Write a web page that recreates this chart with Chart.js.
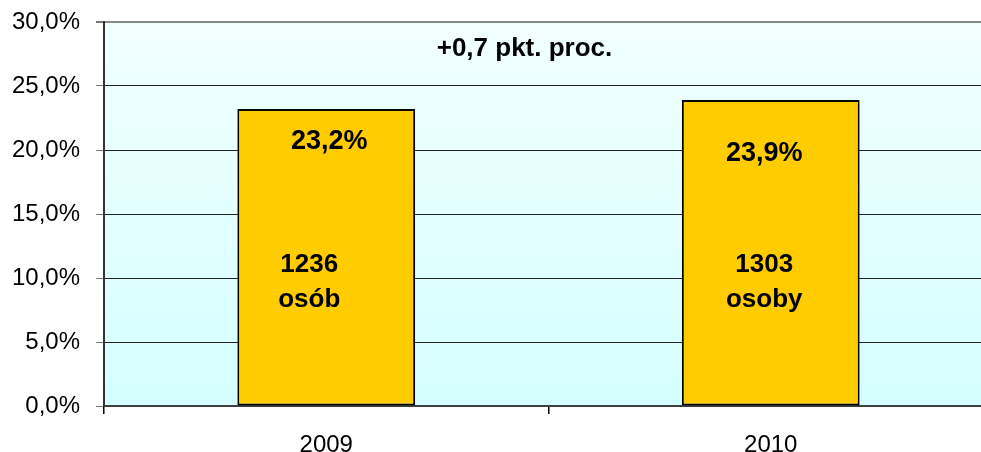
<!DOCTYPE html>
<html>
<head>
<meta charset="utf-8">
<script src="https://cdn.jsdelivr.net/npm/chart.js@4"></script>
<style>
  html, body { margin: 0; padding: 0; background: #fff; overflow: hidden; }
  #wrap { width: 1000px; height: 452px; position: relative; }
  canvas { display: block; }
</style>
</head>
<body>
<div id="wrap"><canvas id="c" width="1000" height="452"></canvas></div>
<script>
// ---- data ----
const categories = ['2009', '2010'];
const shareValues = [23.2, 23.9];
const shareLabels = ['23,2%', '23,9%'];
const countLabels = [['1236', 'osób'], ['1303', 'osoby']];
const changeLabel = '+0,7 pkt. proc.';
const yTicks = [0, 5, 10, 15, 20, 25, 30];

// ---- style ----
const FONT = "'Liberation Sans', Arial, sans-serif";
const pctOffsets = [{dx: 3, dy: 33}, {dx: -6.5, dy: 53}];
const countOffsets = [{dx: -17, dy: 156}, {dx: -6.5, dy: 165}];

const bgPlugin = {
  id: 'plotBg',
  beforeDraw(chart) {
    const {ctx, chartArea: a} = chart;
    const g = ctx.createLinearGradient(0, a.top, 0, a.bottom);
    g.addColorStop(0, '#F2FFFF');
    g.addColorStop(1, '#D4FFFF');
    ctx.save();
    ctx.fillStyle = g;
    ctx.fillRect(a.left, a.top, a.right - a.left, a.bottom - a.top);
    ctx.restore();
  }
};

const labelPlugin = {
  id: 'labels',
  afterDatasetsDraw(chart) {
    const {ctx} = chart;
    const meta = chart.getDatasetMeta(0);
    ctx.save();
    ctx.fillStyle = '#000';
    ctx.textAlign = 'center';
    ctx.textBaseline = 'middle';
    meta.data.forEach((bar, i) => {
      ctx.font = `bold 27px ${FONT}`;
      ctx.fillText(shareLabels[i], bar.x + pctOffsets[i].dx, bar.y + pctOffsets[i].dy);
      ctx.font = `bold 26px ${FONT}`;
      countLabels[i].forEach((line, j) => {
        ctx.fillText(line, bar.x + countOffsets[i].dx, bar.y + countOffsets[i].dy + j * 35);
      });
    });
    const mid = (meta.data[0].x + meta.data[1].x) / 2;
    ctx.font = `bold 26px ${FONT}`;
    ctx.fillText(changeLabel, mid - 24, chart.chartArea.top + 27);
    ctx.restore();
  }
};

new Chart(document.getElementById('c'), {
  type: 'bar',
  data: {
    labels: categories,
    datasets: [{
      data: shareValues,
      backgroundColor: '#FFCC00',
      borderColor: '#000',
      borderWidth: 2,
      borderSkipped: false,
      barPercentage: 0.4,
      categoryPercentage: 1
    }]
  },
  options: {
    responsive: false,
    animation: false,
    devicePixelRatio: 1,
    layout: { padding: { left: 12, top: 22, right: 7, bottom: 0 } },
    plugins: { legend: { display: false }, tooltip: { enabled: false } },
    scales: {
      x: {
        offset: true,
        grid: {
          offset: true,
          drawOnChartArea: false,
          drawTicks: true,
          tickLength: 8,
          color: '#000',
          lineWidth: 1.5
        },
        border: { color: '#404040', width: 2 },
        ticks: { color: '#000', font: { family: FONT, size: 24 }, padding: 17 },
        afterFit(s) { s.height = 46; s.paddingLeft = 0; s.paddingRight = 0; }
      },
      y: {
        min: 0, max: 30,
        afterBuildTicks(s) { s.ticks = yTicks.map(v => ({value: v})); },
        afterFit(s) { s.width = 92; s.paddingTop = 0; s.paddingBottom = 0; },
        grid: {
          color: (c) => (c.tick && c.tick.value === 30) ? '#888' : '#222',
          lineWidth: (c) => (c.tick && c.tick.value === 30) ? 2 : 1,
          tickLength: 8,
          tickColor: '#777'
        },
        border: { color: '#333', width: 2 },
        ticks: {
          color: '#000',
          padding: 16,
          autoSkip: false,
          font: { family: FONT, size: 24 },
          callback: (v) => v.toFixed(1).replace('.', ',') + '%'
        }
      }
    }
  },
  plugins: [bgPlugin, labelPlugin]
});
</script>
</body>
</html>
